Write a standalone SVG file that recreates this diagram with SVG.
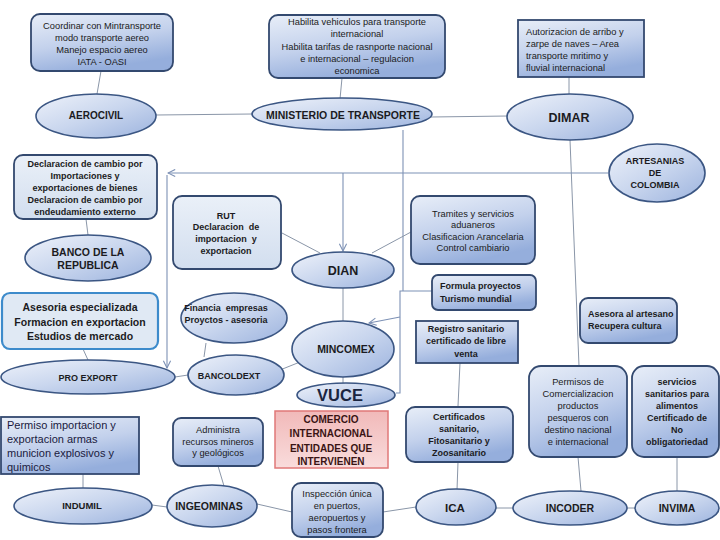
<svg xmlns="http://www.w3.org/2000/svg" width="720" height="540" viewBox="0 0 720 540">
<defs>
<linearGradient id="ge" x1="0" y1="0" x2="1" y2="1">
<stop offset="0" stop-color="#eef2fa"/><stop offset="0.5" stop-color="#c9d6ee"/><stop offset="1" stop-color="#9cb3de"/>
</linearGradient>
<linearGradient id="gb" x1="0" y1="0" x2="0.4" y2="1">
<stop offset="0" stop-color="#e8eef8"/><stop offset="0.55" stop-color="#c3d1ec"/><stop offset="1" stop-color="#95aedc"/>
</linearGradient>
<linearGradient id="gl" x1="0" y1="0" x2="0" y2="1">
<stop offset="0" stop-color="#eaf0f8"/><stop offset="1" stop-color="#d2deef"/>
</linearGradient>
<linearGradient id="gp" x1="0" y1="0" x2="0" y2="1">
<stop offset="0" stop-color="#f1b9b9"/><stop offset="1" stop-color="#f9dcdc"/>
</linearGradient>
<marker id="ar" viewBox="0 0 10 10" refX="9" refY="5" markerWidth="9" markerHeight="9" orient="auto" markerUnits="userSpaceOnUse">
<path d="M1,1 L9,5 L1,9" fill="none" stroke="#7d91b5" stroke-width="1.2"/>
</marker>
<style>
.e{fill:url(#ge);stroke:#3b5683;stroke-width:1.6}
.b{fill:url(#gb);stroke:#33496f;stroke-width:1.8}
.l{fill:url(#gl);stroke:#33496f;stroke-width:1.8}
.c{fill:none;stroke:#8a96a8;stroke-width:1}
.a{fill:none;stroke:#7d91b5;stroke-width:1.1}
text{font-family:"Liberation Sans",Arial,sans-serif;fill:#1b1b22;text-anchor:middle}
.n{font-size:9.3px}
.s{font-size:9px;font-weight:bold}
.h{font-weight:bold}
.lt{text-anchor:start}
</style>
</defs>

<g id="connectors">
<line class="c" x1="101" y1="71" x2="97" y2="94"/>
<line class="c" x1="156" y1="115" x2="252" y2="114"/>
<line class="c" x1="342" y1="78" x2="340" y2="99"/>
<line class="c" x1="431" y1="117" x2="508" y2="116"/>
<line class="c" x1="569" y1="77" x2="569" y2="94"/>
<line class="c" x1="570" y1="140" x2="579" y2="366"/>
<path class="a" d="M608,173 H168" marker-end="url(#ar)"/>
<path class="a" d="M167,175 V368" marker-end="url(#ar)"/>
<path class="a" d="M343,173 V251" marker-end="url(#ar)"/>
<path class="a" d="M403,130 V291"/>
<path class="a" d="M432,291 H400 V393 H396"/>
<path class="a" d="M400,317 L369,323" marker-end="url(#ar)"/>
<line class="c" x1="86" y1="219" x2="88" y2="235"/>
<line class="c" x1="282" y1="233" x2="320" y2="253"/>
<line class="c" x1="411" y1="232" x2="372" y2="253"/>
<line class="c" x1="343" y1="288" x2="343" y2="321"/>
<line class="c" x1="343" y1="377" x2="343" y2="383"/>
<line class="c" x1="280" y1="370" x2="305" y2="360"/>
<line class="c" x1="175" y1="377" x2="188" y2="375"/>
<line class="c" x1="83" y1="349" x2="88" y2="360"/>
<line class="c" x1="206" y1="343" x2="204" y2="357"/>
<line class="c" x1="460" y1="363" x2="458" y2="406"/>
<line class="c" x1="458" y1="462" x2="457" y2="490"/>
<line class="c" x1="578" y1="457" x2="581" y2="491"/>
<line class="c" x1="677" y1="457" x2="677" y2="491"/>
<line class="c" x1="627" y1="508" x2="635" y2="508"/>
<line class="c" x1="496" y1="508" x2="513" y2="508"/>
<line class="c" x1="383" y1="512" x2="416" y2="507"/>
<line class="c" x1="257" y1="504" x2="292" y2="512"/>
<line class="c" x1="152" y1="505" x2="167" y2="507"/>
<line class="c" x1="218" y1="466" x2="224" y2="486"/>
<line class="c" x1="83" y1="474" x2="83" y2="488"/>
</g>

<g id="n-coordinar">
<rect class="b" x="31" y="14" width="142" height="57" rx="9"/>
<text class="n" x="102" y="29">Coordinar con Mintransporte</text>
<text class="n" x="102" y="41">modo transporte aereo</text>
<text class="n" x="102" y="53">Manejo espacio aereo</text>
<text class="n" x="102" y="65">IATA - OASI</text>
</g>
<g id="n-aerocivil">
<ellipse class="e" cx="96" cy="116" rx="60" ry="22"/>
<text class="h" x="96" y="119" font-size="10px">AEROCIVIL</text>
</g>
<g id="n-habilita">
<rect class="b" x="269" y="15" width="176" height="63" rx="9"/>
<text class="n" x="357" y="25">Habilita vehiculos para transporte</text>
<text class="n" x="357" y="37">internacional</text>
<text class="n" x="357" y="50">Habilita tarifas de rasnporte nacional</text>
<text class="n" x="357" y="62">e internacional – regulacion</text>
<text class="n" x="357" y="74">economica</text>
</g>
<g id="n-ministerio">
<ellipse class="e" cx="342" cy="114" rx="90" ry="16"/>
<text class="h" x="343" y="119" font-size="10.5px">MINISTERIO DE TRANSPORTE</text>
</g>
<g id="n-autorizacion">
<rect class="b" x="518" y="20" width="126" height="57"/>
<text class="n lt" x="526" y="35">Autorizacion de arribo y</text>
<text class="n lt" x="526" y="47">zarpe de naves – Area</text>
<text class="n lt" x="526" y="59">transporte mritimo y</text>
<text class="n lt" x="526" y="71">fluvial internacional</text>
</g>
<g id="n-dimar">
<ellipse class="e" cx="570" cy="117" rx="63" ry="23"/>
<text class="h" x="569" y="122" font-size="12.5px">DIMAR</text>
</g>
<g id="n-declaracion">
<rect class="l" x="14" y="155" width="143" height="64" rx="9"/>
<text class="s" x="85" y="167">Declaracion de cambio por</text>
<text class="s" x="85" y="179">Importaciones y</text>
<text class="s" x="85" y="191">exportaciones de bienes</text>
<text class="s" x="85" y="203">Declaracion de cambio por</text>
<text class="s" x="85" y="215">endeudamiento externo</text>
</g>
<g id="n-banco">
<ellipse class="e" cx="88" cy="258" rx="63" ry="23"/>
<text class="h" x="88" y="256" font-size="10.5px">BANCO DE LA</text>
<text class="h" x="88" y="269" font-size="10.5px">REPUBLICA</text>
</g>
<g id="n-artesanias">
<ellipse class="e" cx="657" cy="173" rx="48" ry="29"/>
<text class="s" x="655" y="164">ARTESANIAS</text>
<text class="s" x="655" y="176">DE</text>
<text class="s" x="655" y="188">COLOMBIA</text>
</g>
<g id="n-rut">
<rect class="l" x="173" y="196" width="108" height="73" rx="9"/>
<text class="s" x="226" y="219">RUT</text>
<text class="s" x="226" y="230" xml:space="preserve">Declaracion  de</text>
<text class="s" x="226" y="242" xml:space="preserve">importacion  y</text>
<text class="s" x="226" y="254">exportacion</text>
</g>
<g id="n-tramites">
<rect class="b" x="411" y="196" width="124" height="68" rx="9"/>
<text class="n" x="473" y="217">Tramites y servicios</text>
<text class="n" x="473" y="228">aduaneros</text>
<text class="n" x="473" y="240">Clasificacion Arancelaria</text>
<text class="n" x="473" y="251">Control cambiario</text>
</g>
<g id="n-dian">
<ellipse class="e" cx="343" cy="270" rx="51" ry="18"/>
<text class="h" x="343" y="275" font-size="12.5px">DIAN</text>
</g>
<g id="n-formula">
<rect class="b" x="432" y="275" width="104" height="35" rx="6"/>
<text class="s lt" x="440" y="289">Formula proyectos</text>
<text class="s lt" x="440" y="302">Turismo mundial</text>
</g>
<g id="n-asesoria">
<rect x="2" y="293" width="156" height="56" rx="8" fill="#e0e9f4" stroke="#3d8bcb" stroke-width="2.2"/>
<text class="h" x="80" y="311" font-size="10.5px">Asesoria especializada</text>
<text class="h" x="80" y="326" font-size="10.5px">Formacion en exportacion</text>
<text class="h" x="80" y="340" font-size="10.5px">Estudios de mercado</text>
</g>
<g id="n-financia">
<ellipse class="e" cx="234" cy="318" rx="53" ry="25"/>
<text class="s" x="226" y="311" font-size="8.5px" xml:space="preserve">Financia  empresas</text>
<text class="s" x="226" y="323" font-size="8.5px">Proyctos - asesoria</text>
</g>
<g id="n-mincomex">
<ellipse class="e" cx="343" cy="349" rx="51" ry="28"/>
<text class="h" x="346" y="353" font-size="10.5px">MINCOMEX</text>
</g>
<g id="n-registro">
<rect class="b" x="416" y="321" width="102" height="42" stroke-width="2.2"/>
<text class="s" x="466" y="332">Registro sanitario</text>
<text class="s" x="466" y="344">certificado de libre</text>
<text class="s" x="466" y="357">venta</text>
</g>
<g id="n-asesora">
<rect class="b" x="580" y="298" width="97" height="45" rx="8"/>
<text class="s lt" x="588" y="317">Asesora al artesano</text>
<text class="s lt" x="588" y="329">Recupera cultura</text>
</g>
<g id="n-proexport">
<ellipse class="e" cx="88" cy="377" rx="87" ry="17"/>
<text class="s" x="88" y="381">PRO EXPORT</text>
</g>
<g id="n-bancoldext">
<ellipse class="e" cx="236" cy="375" rx="48" ry="20"/>
<text class="s" x="229" y="379">BANCOLDEXT</text>
</g>
<g id="n-vuce">
<ellipse class="e" cx="346" cy="395" rx="49" ry="12"/>
<text class="h" x="340" y="401" font-size="16.5px" style="fill:#1a2540">VUCE</text>
</g>
<g id="n-permisos">
<rect class="b" x="529" y="366" width="98" height="91" rx="12"/>
<text class="n" x="578" y="385">Permisos de</text>
<text class="n" x="578" y="397">Comercializacion</text>
<text class="n" x="578" y="409">productos</text>
<text class="n" x="578" y="421">pesqueros con</text>
<text class="n" x="578" y="433">destino nacional</text>
<text class="n" x="578" y="445">e internacional</text>
</g>
<g id="n-servicios">
<rect class="b" x="632" y="366" width="87" height="91" rx="12"/>
<text class="s" x="677" y="385">servicios</text>
<text class="s" x="677" y="397">sanitarios para</text>
<text class="s" x="677" y="409">alimentos</text>
<text class="s" x="677" y="421">Certificado de</text>
<text class="s" x="677" y="433">No</text>
<text class="s" x="677" y="445">obligatoriedad</text>
</g>
<g id="n-permiso">
<rect class="b" x="1" y="417" width="138" height="57"/>
<text class="lt" x="7" y="429" font-size="11px" style="fill:#1a1a40">Permiso importacion y</text>
<text class="lt" x="7" y="443" font-size="11px" style="fill:#1a1a40">exportacion armas</text>
<text class="lt" x="7" y="457" font-size="11px" style="fill:#1a1a40">municion explosivos y</text>
<text class="lt" x="7" y="471" font-size="11px" style="fill:#1a1a40">quimicos</text>
</g>
<g id="n-administra">
<rect class="b" x="173" y="418" width="90" height="48" rx="8"/>
<text class="n" x="218" y="433" font-size="9px">Administra</text>
<text class="n" x="218" y="445" font-size="9px">recursos mineros</text>
<text class="n" x="218" y="456" font-size="9px">y geológicos</text>
</g>
<g id="n-comercio">
<rect x="275" y="411" width="113" height="57" fill="url(#gp)" stroke="#e07878" stroke-width="1.5"/>
<text class="h" x="331" y="423" font-size="10px" style="fill:#3a1414">COMERCIO</text>
<text class="h" x="331" y="437" font-size="10px" style="fill:#3a1414">INTERNACIONAL</text>
<text class="h" x="331" y="452" font-size="10px" style="fill:#3a1414">ENTIDADES QUE</text>
<text class="h" x="331" y="465" font-size="10px" style="fill:#3a1414">INTERVIENEN</text>
</g>
<g id="n-certificados">
<rect class="b" x="406" y="407" width="107" height="55" rx="9"/>
<text class="s" x="459" y="420">Certificados</text>
<text class="s" x="459" y="432">sanitario,</text>
<text class="s" x="459" y="444">Fitosanitario y</text>
<text class="s" x="459" y="456">Zoosanitario</text>
</g>
<g id="n-indumil">
<ellipse class="e" cx="83" cy="506" rx="69" ry="18"/>
<text class="h" x="82" y="509" font-size="9.5px">INDUMIL</text>
</g>
<g id="n-ingeominas">
<ellipse class="e" cx="212" cy="506" rx="45" ry="21"/>
<text class="h" x="209" y="510" font-size="10.5px">INGEOMINAS</text>
</g>
<g id="n-inspeccion">
<rect class="b" x="292" y="483" width="91" height="54" rx="9"/>
<text class="n" x="337" y="497">Inspección única</text>
<text class="n" x="337" y="509">en puertos,</text>
<text class="n" x="337" y="521">aeropuertos y</text>
<text class="n" x="337" y="533">pasos frontera</text>
</g>
<g id="n-ica">
<ellipse class="e" cx="456" cy="507" rx="40" ry="18"/>
<text class="h" x="455" y="512" font-size="11.5px">ICA</text>
</g>
<g id="n-incoder">
<ellipse class="e" cx="570" cy="508" rx="57" ry="17"/>
<text class="h" x="570" y="512" font-size="10.5px">INCODER</text>
</g>
<g id="n-invima">
<ellipse class="e" cx="677" cy="508" rx="42" ry="17"/>
<text class="h" x="677" y="512" font-size="10.5px">INVIMA</text>
</g>
</svg>
